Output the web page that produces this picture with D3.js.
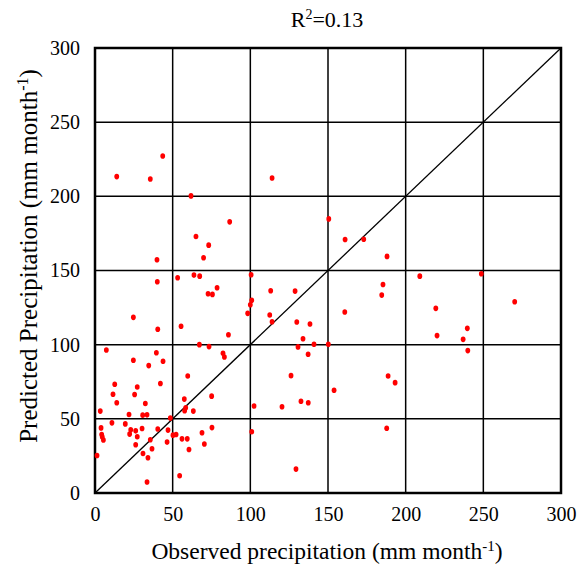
<!DOCTYPE html>
<html>
<head>
<meta charset="utf-8">
<title>observed vs predicted</title>
<script src="https://d3js.org/d3.v7.min.js"></script>
<style>
  body { margin: 0; background: #fff; }
  svg text { font-family: "Liberation Serif", "Times New Roman", serif !important; fill: #000; }
</style>
</head>
<body>
<svg class="chart"></svg>
<script>
// observed (x) and predicted (y), mm month-1
var observed = [43.6, 14.0, 35.6, 61.8, 86.7, 65.0, 73.2, 69.9, 39.9, 53.2, 63.7, 67.4, 40.1, 78.6, 72.8, 75.6,
  24.7, 40.4, 55.4, 85.9, 67.2, 73.4, 7.3, 39.5, 82.4, 83.3, 24.7, 43.8, 34.6, 59.7, 12.7, 42.1, 27.2, 11.6,
  25.5, 75.1, 14.0, 32.4, 57.5, 58.4, 57.7, 63.3, 3.4, 21.9, 30.7, 33.5, 48.5, 10.9, 19.5, 3.9, 30.3, 75.3,
  40.4, 23.0, 26.2, 47.0, 4.3, 22.3, 50.2, 52.2, 27.2, 4.7, 5.4, 35.6, 56.0, 59.4, 68.9, 46.4, 26.2, 70.4,
  36.7, 60.5, 30.9, 34.1, 1.3, 54.5, 33.5,
  114.0, 150.5, 161.0, 173.0, 188.0, 100.5, 113.1, 128.8, 185.4, 184.6, 100.9, 100.0, 98.3, 112.5, 114.0,
  129.9, 138.4, 160.8, 133.9, 130.7, 141.0, 150.2, 137.2, 126.2, 188.7, 193.2, 153.9, 102.4, 120.4, 132.6,
  137.3, 100.9, 187.8, 129.4, 209.1, 248.7, 270.2, 219.4, 239.7, 220.2, 237.0, 240.0];
var predicted = [227.2, 213.3, 211.7, 200.3, 182.8, 172.9, 167.1, 158.6, 157.2, 145.1, 146.9, 146.2, 142.4, 138.4, 134.3, 133.9,
  118.4, 110.4, 112.4, 106.7, 100.0, 98.7, 96.4, 94.6, 94.2, 91.7, 89.5, 88.8, 85.9, 78.9, 73.3, 73.8, 71.5, 66.6,
  66.4, 65.3, 60.8, 60.3, 63.3, 57.4, 55.4, 55.2, 55.2, 52.9, 52.5, 52.7, 50.5, 47.3, 46.6, 43.9, 43.5, 44.1,
  43.1, 42.6, 41.9, 42.4, 39.4, 39.7, 39.0, 39.4, 37.9, 37.7, 35.7, 35.9, 36.5, 36.5, 40.6, 34.3, 32.5, 33.0,
  29.8, 29.3, 26.6, 23.8, 25.3, 11.6, 7.4,
  212.4, 184.8, 170.9, 171.1, 159.5, 147.1, 136.3, 136.1, 140.6, 133.4, 129.9, 126.9, 121.1, 120.0, 115.5,
  115.3, 113.9, 122.0, 104.0, 98.5, 100.3, 100.3, 93.5, 79.1, 78.9, 74.4, 69.3, 58.7, 58.1, 61.9,
  60.8, 41.3, 43.7, 16.1, 146.2, 147.8, 128.9, 124.5, 111.0, 106.1, 103.6, 96.0];
var tickValues = [0, 50, 100, 150, 200, 250, 300];
var rSquared = "0.13";

var svgWidth = 586, svgHeight = 567;
var margin = {top: 48, right: 25, bottom: 74, left: 95};
var width = svgWidth - margin.left - margin.right;
var height = svgHeight - margin.top - margin.bottom;

var svg = d3.select(".chart").attr("width", svgWidth).attr("height", svgHeight);
var chart = svg.append("g").attr("transform", "translate(" + margin.left + "," + margin.top + ")");

var xScale = d3.scaleLinear().domain([0, 300]).range([0, width]);
var yScale = d3.scaleLinear().domain([0, 300]).range([height, 0]);

// grid
chart.append("g").selectAll("line").data(tickValues).enter().append("line")
  .attr("x1", d => xScale(d)).attr("x2", d => xScale(d))
  .attr("y1", 0).attr("y2", height)
  .attr("stroke", "#000").attr("stroke-width", 1.5);
chart.append("g").selectAll("line").data(tickValues).enter().append("line")
  .attr("y1", d => yScale(d)).attr("y2", d => yScale(d))
  .attr("x1", 0).attr("x2", width)
  .attr("stroke", "#000").attr("stroke-width", 1.5);

// axes (labels only)
var xAxis = d3.axisBottom(xScale).tickValues(tickValues).tickSize(0).tickPadding(14);
var yAxis = d3.axisLeft(yScale).tickValues(tickValues).tickSize(0).tickPadding(15);
var gx = chart.append("g").attr("transform", "translate(0," + height + ")").call(xAxis);
var gy = chart.append("g").call(yAxis);
[gx, gy].forEach(function (g) {
  g.attr("font-family", "Liberation Serif").attr("font-size", null);
  g.select(".domain").remove();
  g.selectAll("text").style("font-size", "20px");
});

// border
chart.append("rect").attr("width", width).attr("height", height)
  .attr("fill", "none").attr("stroke", "#000").attr("stroke-width", 2.5);

// 1:1 line
chart.append("line")
  .attr("x1", xScale(0)).attr("y1", yScale(0))
  .attr("x2", xScale(300)).attr("y2", yScale(300))
  .attr("stroke", "#000").attr("stroke-width", 1.3);

// points
chart.selectAll(".dot").data(observed).enter().append("ellipse")
  .attr("class", "dot")
  .attr("cx", d => xScale(d))
  .attr("cy", (d, i) => yScale(predicted[i]))
  .attr("rx", 2.4).attr("ry", 2.8)
  .attr("fill", "#ff0000");

// title
var title = svg.append("text").attr("x", 327).attr("y", 27)
  .attr("text-anchor", "middle").style("font-size", "22px");
title.append("tspan").text("R");
title.append("tspan").attr("dy", -8).style("font-size", "14px").text("2");
title.append("tspan").attr("dy", 8).text("=" + rSquared);

// x title
var xt = svg.append("text").attr("x", 327).attr("y", 559)
  .attr("text-anchor", "middle").style("font-size", "23.5px");
xt.append("tspan").text("Observed precipitation (mm month");
xt.append("tspan").attr("dy", -8).style("font-size", "15px").text("-1");
xt.append("tspan").attr("dy", 8).text(")");

// y title
var yt = svg.append("text")
  .attr("transform", "translate(37,256) rotate(-90)")
  .attr("text-anchor", "middle").style("font-size", "25px");
yt.append("tspan").text("Predicted Precipitation (mm month");
yt.append("tspan").attr("dy", -9).style("font-size", "16px").text("-1");
yt.append("tspan").attr("dy", 9).text(")");
</script>
</body>
</html>
